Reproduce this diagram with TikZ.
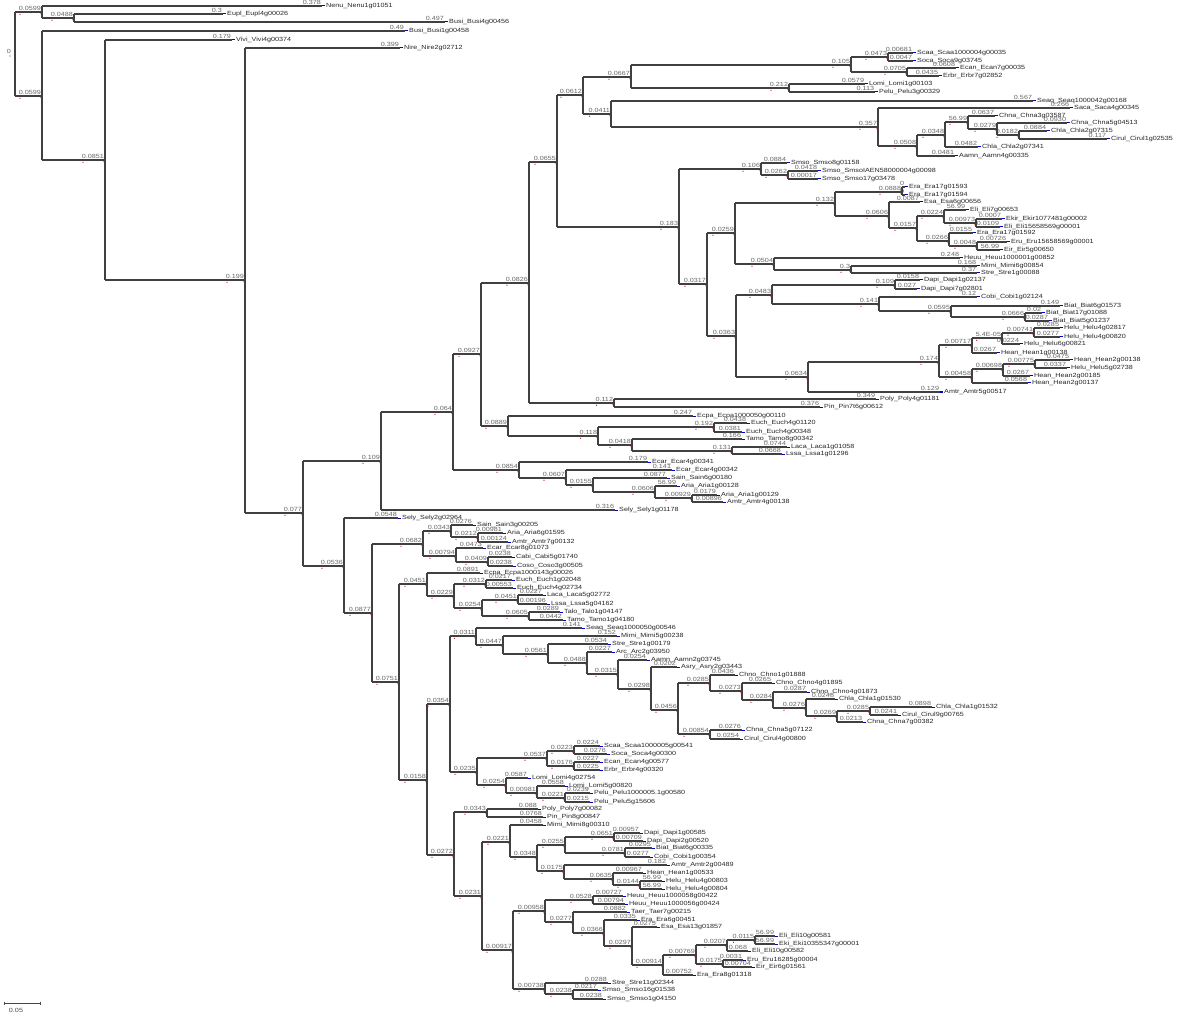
\documentclass[tikz,border=0pt]{standalone}
\usepackage{fontspec}
\newfontfamily\tf[FakeStretch=1.2]{Liberation Sans}
\begin{document}
\begin{tikzpicture}[x=1pt,y=-1pt,
  br/.style={draw=black!75,line width=1.2pt},
  bl/.style={font=\tf\fontsize{6}{7}\selectfont,text=black!60,anchor=south east,inner sep=0.4pt},
  lbl/.style={font=\tf\fontsize{6}{7}\selectfont,text=black!85,anchor=west,inner sep=0pt,xshift=4pt},
  bm/.style={draw=blue!80!black,line width=1pt},
  rd/.style={fill=red!80!black}]
\useasboundingbox (0,0) rectangle (1200,1016);
\newcommand\inode[5]{\coordinate (#1) at (#2,#3);
  \draw[br] (#4 |- #1) -- (#1) node[bl] (#1b) {#5};
  \fill[rd] ([xshift=-1pt,yshift=-1.8pt]#1) circle (0.7pt);
  \fill[rd] ([xshift=2pt,yshift=-2.2pt]#1b.south west) circle (0.6pt);}
\newcommand\leaf[6]{\coordinate (#1) at (#2,#3);
  \draw[br] (#4 |- #1) -- (#1) node[bl] (#1b) {#5};
  \draw[bm] (#1) -- ++(3,0);
  \node[lbl] (#1t) at (#1) {#6};}
\newcommand\vbar[3]{\draw[br] (#1 |- #2) -- (#1 |- #3);}
% root
\coordinate (root) at (15,54);
\node[font=\tf\fontsize{6}{7}\selectfont,text=black!60,inner sep=0pt] (rootlab) at (9,51) {0};
\fill[rd] (10,56) circle (0.7pt);
\inode{a1}{42}{12}{root}{0.0599}
\leaf{nenu}{322}{6}{a1}{0.378}{Nenu\_Nenu1g01051}
\inode{a2}{74}{18}{a1}{0.0488}
\leaf{eupl}{223}{14}{a2}{0.3}{Eupl\_Eupl4g00026}
\leaf{busia}{445}{22}{a2}{0.497}{Busi\_Busi4g00456}
\inode{b1}{42}{96}{root}{0.0599}
\leaf{busib}{405}{31}{b1}{0.49}{Busi\_Busi1g00458}
\inode{b2}{105}{160}{b1}{0.0851}
\leaf{vivi}{232}{40}{b2}{0.179}{Vivi\_Vivi4g00374}
\inode{b3}{245}{280}{b2}{0.199}
\leaf{nire}{400}{48}{b3}{0.399}{Nire\_Nire2g02712}
\inode{c}{303}{513}{b3}{0.077}
% upper clade
\inode{d}{381}{461}{c}{0.109}
\inode{e}{344}{566}{c}{0.0536}
\inode{f}{453}{412}{d}{0.064}
\leaf{selya}{615}{510}{d}{0.316}{Sely\_Sely1g01178}
\inode{g}{481}{354}{f}{0.0927}
\inode{h}{519}{470}{f}{0.0854}
\inode{i}{529}{283}{g}{0.0826}
\inode{j}{508}{426}{g}{0.0889}
\inode{k}{557}{162}{i}{0.0655}
\inode{l}{614}{403}{i}{0.112}
\leaf{poly}{876}{399}{l}{0.349}{Poly\_Poly4g01181}
\leaf{pin}{820}{407}{l}{0.376}{Pin\_Pin7t6g00612}
\inode{m}{583}{95}{k}{0.0612}
\inode{n}{679}{227}{k}{0.183}
\inode{o}{631}{77}{m}{0.0667}
\inode{p}{611}{114}{m}{0.0411}
\inode{q}{851}{65}{o}{0.105}
\inode{rr}{789}{88}{o}{0.212}
\inode{qa}{888}{57}{q}{0.0473}
\inode{qb}{907}{72}{q}{0.0705}
\leaf{scaa}{913}{53}{qa}{0.00681}{Scaa\_Scaa1000004g00035}
\leaf{soca}{913}{61}{qa}{0.0047}{Soca\_Soca9g03745}
\leaf{ecan}{956}{68}{qb}{0.0608}{Ecan\_Ecan7g00035}
\leaf{erbr}{939}{76}{qb}{0.0435}{Erbr\_Erbr7g02852}
\leaf{lomi}{865}{84}{rr}{0.0579}{Lomi\_Lomi1g00103}
\leaf{pelu}{875}{92}{rr}{0.113}{Pelu\_Pelu3g00329}
\leaf{seaq}{1033}{101}{p}{0.567}{Seaq\_Seaq1000042g00168}
\inode{s}{878}{127}{p}{0.357}
\leaf{saca}{1070}{108}{s}{0.266}{Saca\_Saca4g00345}
\inode{t}{917}{146}{s}{0.0508}
\inode{u}{945}{135}{t}{0.0348}
\leaf{aamn}{955}{156}{t}{0.0481}{Aamn\_Aamn4g00335}
\inode{v}{968}{122}{u}{56.99}
\leaf{chlab}{978}{147}{u}{0.0482}{Chla\_Chla2g07341}
\leaf{chnaa}{995}{116}{v}{0.0637}{Chna\_Chna3g03587}
\inode{w}{997}{129}{v}{0.0279}
\leaf{chnab}{1067}{123}{w}{0.0930}{Chna\_Chna5g04513}
\inode{xx}{1019}{135}{w}{0.0182}
\leaf{chlaa}{1047}{131}{xx}{0.0884}{Chla\_Chla2g07315}
\leaf{cirula}{1107}{139}{xx}{0.117}{Cirul\_Cirul1g02535}
\inode{n1}{761}{169}{n}{0.106}
\inode{n2}{707}{284}{n}{0.0317}
\leaf{smsoa}{787}{163}{n1}{0.0884}{Smso\_Smso8g01158}
\inode{n1b}{788}{175}{n1}{0.0262}
\leaf{smsob}{818}{171}{n1b}{0.0418}{Smso\_SmsoIAEN58000004g00098}
\leaf{smsoc}{818}{179}{n1b}{0.00017}{Smso\_Smso17g03478}
\inode{n3}{735}{233}{n2}{0.0259}
\inode{n4}{736}{336}{n2}{0.0363}
\inode{n5}{835}{203}{n3}{0.132}
\inode{n6}{774}{264}{n3}{0.0504}
\inode{n7}{902}{192}{n5}{0.0888}
\inode{n8}{889}{216}{n5}{0.0606}
\leaf{eraa}{905}{187}{n7}{0}{Era\_Era17g01593}
\leaf{erab}{905}{195}{n7}{0}{Era\_Era17g01594}
\leaf{esa}{920}{202}{n8}{0.0087}{Esa\_Esa6g00656}
\inode{n9}{917}{228}{n8}{0.0157}
\inode{n10}{944}{216}{n9}{0.0224}
\inode{n11}{949}{241}{n9}{0.0266}
\leaf{elia}{966}{210}{n10}{56.99}{Eli\_Eli7g00653}
\inode{n12}{976}{223}{n10}{0.00973}
\leaf{ekir}{1002}{219}{n12}{0.0007}{Ekir\_Ekir1077481g00002}
\leaf{elib}{1000}{227}{n12}{0.0109}{Eli\_Eli15658569g00001}
\leaf{erac}{973}{233}{n11}{0.0155}{Era\_Era17g01592}
\inode{n13}{977}{246}{n11}{0.0048}
\leaf{eru}{1007}{242}{n13}{0.00726}{Eru\_Eru15658569g00001}
\leaf{eir}{1000}{250}{n13}{56.99}{Eir\_Eir5g00650}
\leaf{heuua}{960}{258}{n6}{0.248}{Heuu\_Heuu1000001g00852}
\inode{n14}{851}{270}{n6}{0.3}
\leaf{mimia}{977}{266}{n14}{0.168}{Mimi\_Mimi6g00854}
\leaf{strea}{977}{273}{n14}{0.37}{Stre\_Stre1g00088}
\inode{n15}{772}{295}{n4}{0.0483}
\inode{n16}{808}{377}{n4}{0.0634}
\inode{n17}{895}{285}{n15}{0.109}
\inode{n18}{879}{304}{n15}{0.141}
\leaf{dapia}{920}{280}{n17}{0.0158}{Dapi\_Dapi1g02137}
\leaf{dapib}{917}{289}{n17}{0.027}{Dapi\_Dapi7g02801}
\leaf{cobia}{977}{297}{n18}{0.12}{Cobi\_Cobi1g02124}
\inode{n19}{951}{311}{n18}{0.0595}
\leaf{biata}{1060}{306}{n19}{0.149}{Biat\_Biat6g01573}
\inode{n20}{1025}{317}{n19}{0.0666}
\leaf{biatb}{1042}{313}{n20}{0.02}{Biat\_Biat17g01088}
\leaf{biatc}{1049}{321}{n20}{0.0287}{Biat\_Biat5g01237}
\inode{n21}{939}{362}{n16}{0.174}
\leaf{amtra}{940}{392}{n16}{0.129}{Amtr\_Amtr5g00517}
\inode{n22}{972}{345}{n21}{0.00717}
\inode{n23}{972}{377}{n21}{0.00458}
\inode{n24}{1002}{338}{n22}{5.4E-05}
\leaf{heana}{997}{353}{n22}{0.0267}{Hean\_Hean1g00138}
\inode{n25}{1034}{333}{n24}{0.00741}
\leaf{helua}{1020}{344}{n24}{0.0224}{Helu\_Helu6g00821}
\leaf{helub}{1060}{328}{n25}{0.0285}{Helu\_Helu4g02817}
\leaf{heluc}{1060}{337}{n25}{0.0277}{Helu\_Helu4g00820}
\inode{n26}{1003}{369}{n23}{0.00698}
\leaf{heanb}{1028}{383}{n23}{0.0568}{Hean\_Hean2g00137}
\inode{n27}{1035}{364}{n26}{0.00775}
\leaf{heanc}{1030}{376}{n26}{0.0267}{Hean\_Hean2g00185}
\leaf{heand}{1070}{360}{n27}{0.0475}{Hean\_Hean2g00138}
\leaf{helud}{1067}{368}{n27}{0.0337}{Helu\_Helu5g02738}
\leaf{ecpaa}{693}{416}{j}{0.247}{Ecpa\_Ecpa1000050g00110}
\inode{j1}{598}{436}{j}{0.118}
\inode{j2}{714}{427}{j1}{0.192}
\inode{j3}{632}{445}{j1}{0.0418}
\leaf{eucha}{747}{423}{j2}{0.0438}{Euch\_Euch4g01120}
\leaf{euchb}{742}{432}{j2}{0.0381}{Euch\_Euch4g00348}
\leaf{tamoa}{742}{439}{j3}{0.166}{Tamo\_Tamo8g00342}
\inode{j4}{732}{451}{j3}{0.131}
\leaf{lacaa}{787}{447}{j4}{0.0744}{Laca\_Laca1g01058}
\leaf{lssaa}{782}{454}{j4}{0.0668}{Lssa\_Lssa1g01296}
\leaf{ecara}{648}{462}{h}{0.179}{Ecar\_Ecar4g00341}
\inode{h1}{566}{478}{h}{0.0607}
\leaf{ecarb}{672}{470}{h1}{0.141}{Ecar\_Ecar4g00342}
\inode{h2}{593}{485}{h1}{0.0155}
\leaf{saina}{667}{478}{h2}{0.0877}{Sain\_Sain6g00180}
\inode{h3}{655}{492}{h2}{0.0606}
\leaf{ariaa}{677}{486}{h3}{56.99}{Aria\_Aria1g00128}
\inode{h4}{692}{498}{h3}{0.00929}
\leaf{ariab}{717}{495}{h4}{0.0179}{Aria\_Aria1g00129}
\leaf{amtrb}{723}{502}{h4}{0.00896}{Amtr\_Amtr4g00138}
% lower clade
\leaf{selyb}{398}{518}{e}{0.0548}{Sely\_Sely2g02964}
\inode{e1}{372}{613}{e}{0.0877}
\inode{e2}{423}{544}{e1}{0.0682}
\inode{e3}{399}{682}{e1}{0.0751}
\inode{e4}{451}{531}{e2}{0.0343}
\inode{e5}{456}{556}{e2}{0.00794}
\leaf{sainb}{473}{525}{e4}{0.0276}{Sain\_Sain3g00205}
\inode{e6}{478}{537}{e4}{0.0212}
\leaf{ariac}{503}{533}{e6}{0.00981}{Aria\_Aria6g01595}
\leaf{amtrc}{508}{542}{e6}{0.00124}{Amtr\_Amtr7g00132}
\leaf{ecarc}{483}{548}{e5}{0.0473}{Ecar\_Ecar8g01073}
\inode{e7}{488}{562}{e5}{0.0409}
\leaf{cabi}{512}{557}{e7}{0.0238}{Cabi\_Cabi5g01740}
\leaf{coso}{513}{566}{e7}{0.0238}{Coso\_Coso3g00505}
\inode{e8}{427}{584}{e3}{0.0451}
\inode{e9}{427}{780}{e3}{0.0158}
\leaf{ecpab}{480}{573}{e8}{0.0891}{Ecpa\_Ecpa1000143g00026}
\inode{e10}{454}{596}{e8}{0.0229}
\inode{e11}{486}{584}{e10}{0.0312}
\inode{e12}{482}{608}{e10}{0.0254}
\leaf{euchc}{512}{580}{e11}{0.0217}{Euch\_Euch1g02048}
\leaf{euchd}{513}{588}{e11}{0.00553}{Euch\_Euch4g02734}
\inode{e13}{518}{600}{e12}{0.0451}
\inode{e14}{529}{616}{e12}{0.0605}
\leaf{lacab}{543}{595}{e13}{0.0227}{Laca\_Laca5g02772}
\leaf{lssab}{547}{604}{e13}{0.00196}{Lssa\_Lssa5g04162}
\leaf{talo}{560}{612}{e14}{0.0289}{Talo\_Talo1g04147}
\leaf{tamob}{563}{620}{e14}{0.0442}{Tamo\_Tamo1g04180}
\inode{e15}{450}{704}{e9}{0.0354}
\inode{e16}{454}{855}{e9}{0.0272}
\inode{e17}{476}{636}{e15}{0.0311}
\inode{e18}{477}{772}{e15}{0.0235}
\leaf{seaqb}{582}{628}{e17}{0.141}{Seaq\_Seaq1000050g00546}
\inode{e19}{503}{645}{e17}{0.0447}
\leaf{mimib}{617}{636}{e19}{0.152}{Mimi\_Mimi5g00238}
\inode{e20}{548}{654}{e19}{0.0561}
\leaf{streb}{608}{644}{e20}{0.0534}{Stre\_Stre1g00179}
\inode{e21}{587}{663}{e20}{0.0488}
\leaf{arc}{612}{652}{e21}{0.0227}{Arc\_Arc2g03950}
\inode{e22}{618}{674}{e21}{0.0315}
\leaf{aamnb}{647}{660}{e22}{0.0254}{Aamn\_Aamn2g03745}
\inode{e23}{651}{689}{e22}{0.0298}
\leaf{asry}{677}{667}{e23}{0.0202}{Asry\_Asry2g03443}
\inode{e24}{678}{710}{e23}{0.0456}
\inode{e25}{710}{683}{e24}{0.0285}
\inode{e26}{710}{734}{e24}{0.00854}
\leaf{chnoa}{735}{675}{e25}{0.0436}{Chno\_Chno1g01888}
\inode{e27}{742}{691}{e25}{0.0273}
\leaf{chnob}{772}{683}{e27}{0.0265}{Chno\_Chno4g01895}
\inode{e28}{773}{700}{e27}{0.0284}
\leaf{chnoc}{807}{692}{e28}{0.0287}{Chno\_Chno4g01873}
\inode{e29}{806}{708}{e28}{0.0276}
\leaf{chlac}{835}{699}{e29}{0.0248}{Chla\_Chla1g01530}
\inode{e30}{837}{716}{e29}{0.0269}
\inode{e31}{870}{711}{e30}{0.0285}
\leaf{chnac}{863}{722}{e30}{0.0213}{Chna\_Chna7g00382}
\leaf{chlad}{932}{707}{e31}{0.0898}{Chla\_Chla1g01532}
\leaf{cirulb}{898}{715}{e31}{0.0241}{Cirul\_Cirul9g00765}
\leaf{chnad}{742}{730}{e26}{0.0276}{Chna\_Chna5g07122}
\leaf{cirulc}{740}{739}{e26}{0.0254}{Cirul\_Cirul4g00800}
\inode{e32}{547}{758}{e18}{0.0537}
\inode{e33}{506}{785}{e18}{0.0254}
\inode{e34}{574}{751}{e32}{0.0223}
\inode{e35}{574}{766}{e32}{0.0176}
\leaf{scaab}{600}{746}{e34}{0.0224}{Scaa\_Scaa1000005g00541}
\leaf{socab}{607}{754}{e34}{0.0276}{Soca\_Soca4g00300}
\leaf{ecanb}{600}{762}{e35}{0.0227}{Ecan\_Ecan4g00577}
\leaf{erbrb}{600}{770}{e35}{0.0225}{Erbr\_Erbr4g00320}
\leaf{lomib}{528}{778}{e33}{0.0587}{Lomi\_Lomi4g02754}
\inode{e36}{537}{793}{e33}{0.00981}
\leaf{lomic}{565}{786}{e36}{0.0558}{Lomi\_Lomi5g00820}
\inode{e37}{565}{798}{e36}{0.0221}
\leaf{pelub}{590}{793}{e37}{0.0239}{Pelu\_Pelu1000005.1g00580}
\leaf{peluc}{590}{802}{e37}{0.0215}{Pelu\_Pelu5g15606}
\inode{e38}{487}{812}{e16}{0.0343}
\inode{e39}{482}{896}{e16}{0.0231}
\leaf{polyb}{538}{809}{e38}{0.088}{Poly\_Poly7g00082}
\leaf{pinb}{543}{817}{e38}{0.0768}{Pin\_Pin8g00847}
\inode{e40}{510}{842}{e39}{0.0221}
\inode{e41}{513}{950}{e39}{0.00917}
\leaf{mimic}{543}{825}{e40}{0.0458}{Mimi\_Mimi8g00310}
\inode{e42}{537}{857}{e40}{0.0348}
\inode{e43}{565}{845}{e42}{0.0255}
\inode{e44}{564}{871}{e42}{0.0175}
\inode{e45}{614}{837}{e43}{0.0651}
\inode{e46}{625}{853}{e43}{0.0781}
\leaf{dapic}{640}{833}{e45}{0.00957}{Dapi\_Dapi1g00585}
\leaf{dapid}{643}{841}{e45}{0.00709}{Dapi\_Dapi2g00520}
\leaf{biatd}{652}{848}{e46}{0.0295}{Biat\_Biat6g00335}
\leaf{cobib}{650}{857}{e46}{0.0277}{Cobi\_Cobi1g00354}
\leaf{amtrd}{667}{865}{e44}{0.182}{Amtr\_Amtr2g00489}
\inode{e47}{613}{879}{e44}{0.0635}
\leaf{heane}{643}{873}{e47}{0.00967}{Hean\_Hean1g00533}
\inode{e48}{640}{885}{e47}{0.0144}
\leaf{helue}{662}{881}{e48}{56.99}{Helu\_Helu4g00803}
\leaf{heluf}{662}{889}{e48}{56.99}{Helu\_Helu4g00804}
\inode{e49}{545}{911}{e41}{0.00958}
\inode{e50}{545}{989}{e41}{0.00738}
\inode{e51}{593}{900}{e49}{0.0528}
\inode{e52}{573}{922}{e49}{0.0277}
\leaf{heuub}{623}{896}{e51}{0.00727}{Heuu\_Heuu1000058g00422}
\leaf{heuuc}{625}{904}{e51}{0.00794}{Heuu\_Heuu1000056g00424}
\leaf{taer}{627}{912}{e52}{0.0882}{Taer\_Taer7g00215}
\inode{e53}{604}{933}{e52}{0.0366}
\leaf{erad}{637}{920}{e53}{0.0335}{Era\_Era6g00451}
\inode{e54}{632}{946}{e53}{0.0297}
\leaf{esab}{657}{927}{e54}{0.0275}{Esa\_Esa13g01857}
\inode{e55}{663}{965}{e54}{0.00914}
\inode{e56}{696}{955}{e55}{0.00769}
\leaf{erae}{693}{975}{e55}{0.00752}{Era\_Era8g01318}
\inode{e57}{727}{945}{e56}{0.0207}
\inode{e58}{723}{964}{e56}{0.0175}
\inode{e59}{755}{940}{e57}{0.0115}
\leaf{elic}{748}{951}{e57}{0.068}{Eli\_Eli10g00582}
\leaf{elid}{775}{936}{e59}{56.99}{Eli\_Eli10g00581}
\leaf{eki}{775}{944}{e59}{56.99}{Eki\_Eki10355347g00001}
\leaf{erub}{743}{960}{e58}{0.0031}{Eru\_Eru16285g00004}
\leaf{eirb}{752}{967}{e58}{0.00704}{Eir\_Eir6g01561}
\leaf{strec}{608}{983}{e50}{0.0288}{Stre\_Stre11g02344}
\inode{e60}{573}{994}{e50}{0.0238}
\leaf{smsod}{598}{990}{e60}{0.0217}{Smso\_Smso16g01538}
\leaf{smsoe}{603}{999}{e60}{0.0238}{Smso\_Smso1g04150}
% vertical bars
\vbar{root}{a1}{b1}\vbar{a1}{nenu}{a2}\vbar{a2}{eupl}{busia}\vbar{b1}{busib}{b2}
\vbar{b2}{vivi}{b3}\vbar{b3}{nire}{c}\vbar{c}{d}{e}\vbar{d}{f}{selya}\vbar{f}{g}{h}
\vbar{g}{i}{j}\vbar{i}{k}{l}\vbar{l}{poly}{pin}\vbar{k}{m}{n}\vbar{m}{o}{p}\vbar{o}{q}{rr}
\vbar{q}{qa}{qb}\vbar{qa}{scaa}{soca}\vbar{qb}{ecan}{erbr}\vbar{rr}{lomi}{pelu}
\vbar{p}{seaq}{s}\vbar{s}{saca}{t}\vbar{t}{u}{aamn}\vbar{u}{v}{chlab}\vbar{v}{chnaa}{w}
\vbar{w}{chnab}{xx}\vbar{xx}{chlaa}{cirula}\vbar{n}{n1}{n2}\vbar{n1}{smsoa}{n1b}
\vbar{n1b}{smsob}{smsoc}\vbar{n2}{n3}{n4}\vbar{n3}{n5}{n6}\vbar{n5}{n7}{n8}\vbar{n7}{eraa}{erab}
\vbar{n8}{esa}{n9}\vbar{n9}{n10}{n11}\vbar{n10}{elia}{n12}\vbar{n12}{ekir}{elib}
\vbar{n11}{erac}{n13}\vbar{n13}{eru}{eir}\vbar{n6}{heuua}{n14}\vbar{n14}{mimia}{strea}
\vbar{n4}{n15}{n16}\vbar{n15}{n17}{n18}\vbar{n17}{dapia}{dapib}\vbar{n18}{cobia}{n19}
\vbar{n19}{biata}{n20}\vbar{n20}{biatb}{biatc}\vbar{n16}{n21}{amtra}\vbar{n21}{n22}{n23}
\vbar{n22}{n24}{heana}\vbar{n24}{n25}{helua}\vbar{n25}{helub}{heluc}\vbar{n23}{n26}{heanb}
\vbar{n26}{n27}{heanc}\vbar{n27}{heand}{helud}\vbar{j}{ecpaa}{j1}\vbar{j1}{j2}{j3}
\vbar{j2}{eucha}{euchb}\vbar{j3}{tamoa}{j4}\vbar{j4}{lacaa}{lssaa}\vbar{h}{ecara}{h1}
\vbar{h1}{ecarb}{h2}\vbar{h2}{saina}{h3}\vbar{h3}{ariaa}{h4}\vbar{h4}{ariab}{amtrb}
\vbar{e}{selyb}{e1}\vbar{e1}{e2}{e3}\vbar{e2}{e4}{e5}\vbar{e4}{sainb}{e6}\vbar{e6}{ariac}{amtrc}
\vbar{e5}{ecarc}{e7}\vbar{e7}{cabi}{coso}\vbar{e3}{e8}{e9}\vbar{e8}{ecpab}{e10}\vbar{e10}{e11}{e12}
\vbar{e11}{euchc}{euchd}\vbar{e12}{e13}{e14}\vbar{e13}{lacab}{lssab}\vbar{e14}{talo}{tamob}
\vbar{e9}{e15}{e16}\vbar{e15}{e17}{e18}\vbar{e17}{seaqb}{e19}\vbar{e19}{mimib}{e20}
\vbar{e20}{streb}{e21}\vbar{e21}{arc}{e22}\vbar{e22}{aamnb}{e23}\vbar{e23}{asry}{e24}
\vbar{e24}{e25}{e26}\vbar{e25}{chnoa}{e27}\vbar{e27}{chnob}{e28}\vbar{e28}{chnoc}{e29}
\vbar{e29}{chlac}{e30}\vbar{e30}{e31}{chnac}\vbar{e31}{chlad}{cirulb}\vbar{e26}{chnad}{cirulc}
\vbar{e18}{e32}{e33}\vbar{e32}{e34}{e35}\vbar{e34}{scaab}{socab}\vbar{e35}{ecanb}{erbrb}
\vbar{e33}{lomib}{e36}\vbar{e36}{lomic}{e37}\vbar{e37}{pelub}{peluc}\vbar{e16}{e38}{e39}
\vbar{e38}{polyb}{pinb}\vbar{e39}{e40}{e41}\vbar{e40}{mimic}{e42}\vbar{e42}{e43}{e44}
\vbar{e43}{e45}{e46}\vbar{e45}{dapic}{dapid}\vbar{e46}{biatd}{cobib}\vbar{e44}{amtrd}{e47}
\vbar{e47}{heane}{e48}\vbar{e48}{helue}{heluf}\vbar{e41}{e49}{e50}\vbar{e49}{e51}{e52}
\vbar{e51}{heuub}{heuuc}\vbar{e52}{taer}{e53}\vbar{e53}{erad}{e54}\vbar{e54}{esab}{e55}
\vbar{e55}{e56}{erae}\vbar{e56}{e57}{e58}\vbar{e57}{e59}{elic}\vbar{e59}{elid}{eki}
\vbar{e58}{erub}{eirb}\vbar{e50}{strec}{e60}\vbar{e60}{smsod}{smsoe}
% scale bar
\coordinate (sba) at (4,1003);
\coordinate (sbb) at (40,1003);
\draw[draw=black!72,line width=0.6pt] (sba) -- (sbb);
\draw[draw=black!72,line width=0.6pt] ([yshift=1.5pt]sba) -- ([yshift=-1.5pt]sba);
\draw[draw=black!72,line width=0.6pt] ([yshift=1.5pt]sbb) -- ([yshift=-1.5pt]sbb);
\node[font=\tf\fontsize{6}{7}\selectfont,text=black!70,inner sep=0pt] (sbl) at (16,1010) {0.05};
\end{tikzpicture}
\end{document}
